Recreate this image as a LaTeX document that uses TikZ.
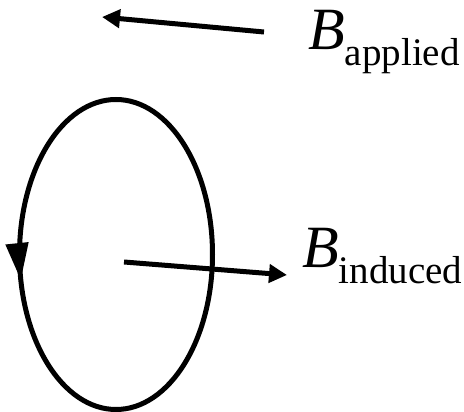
\documentclass[tikz,border=0pt]{standalone}
\usepackage{fontspec}
\setmainfont{Liberation Serif}
\usetikzlibrary{arrows.meta,decorations.markings}
\tikzset{arr/.style={-{Triangle[length=18pt,width=18pt]},line width=5pt},
  loopline/.style={line width=5pt,postaction={decorate},
    decoration={markings,mark=at position 0.532 with {\arrow{Triangle[length=37pt,width=22pt]}}}},
  lbl/.style={inner sep=0pt,anchor=base west}}
\newcommand{\Bfield}[1]{{\fontsize{60}{60}\selectfont\textit{B}}\raisebox{-16pt}{\fontsize{39}{39}\selectfont #1}}

\begin{document}
\begin{tikzpicture}[x=1pt,y=1pt]
\useasboundingbox (0,0) rectangle (464,412);
% applied field
\coordinate (appTail) at (264,380);
\coordinate (appTip) at (102,395);
\draw[arr] (appTail) -- (appTip);
\node[lbl] (applied) at (308,362) {\Bfield{applied}};
% current loop
\coordinate (loopC) at (116,157.5);
\draw[loopline] (loopC) ellipse[x radius=96.5,y radius=155];
% induced field
\coordinate (indTail) at (124,150);
\coordinate (indTip) at (287,137);
\draw[arr] (indTail) -- (indTip);
\node[lbl] (induced) at (302,144) {\Bfield{induced}};
\end{tikzpicture}
\end{document}
